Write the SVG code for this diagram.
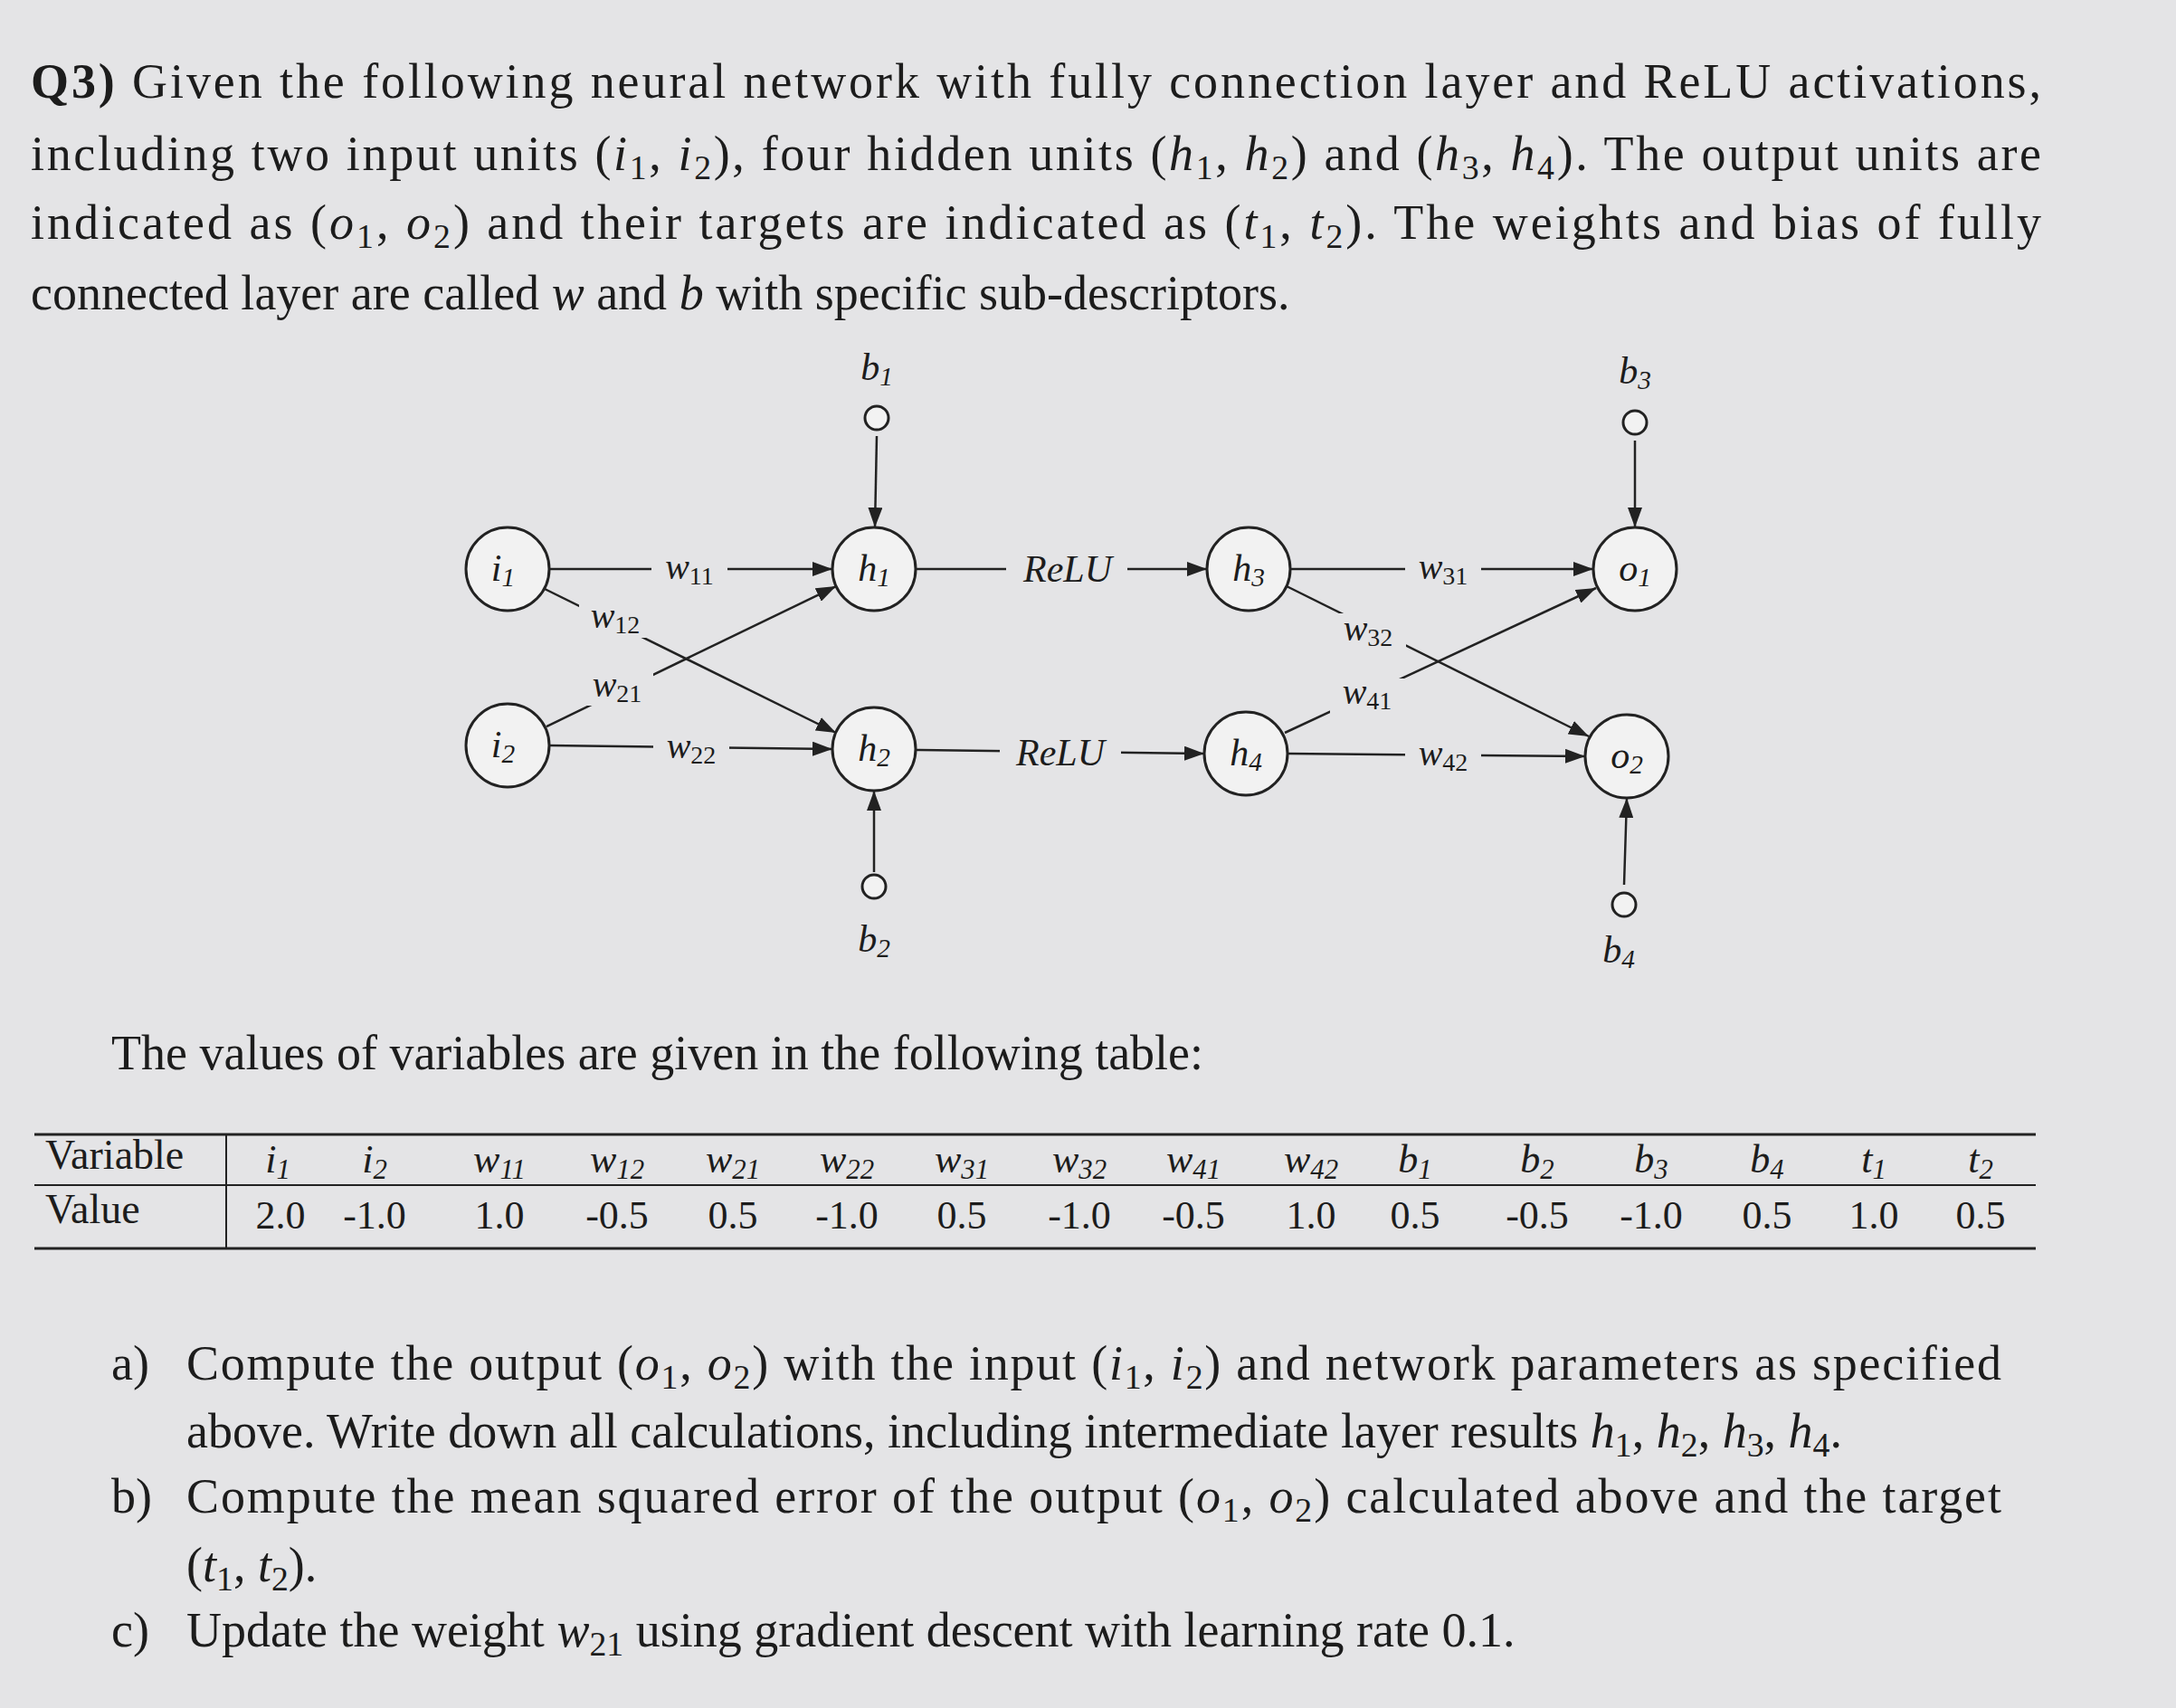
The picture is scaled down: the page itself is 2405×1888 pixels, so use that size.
<svg xmlns="http://www.w3.org/2000/svg" width="2405" height="1888" viewBox="0 0 2405 1888">
<defs>
<marker id="a" viewBox="0 0 10 10" refX="10" refY="5" markerWidth="22" markerHeight="16" orient="auto" markerUnits="userSpaceOnUse" preserveAspectRatio="none"><path d="M0,0 L10,5 L0,10 z" fill="#222"/></marker>
</defs>
<style>
text{font-family:"Liberation Serif","Times New Roman",serif;fill:#1c1c1c}
.p{font-size:54px}
.m{font-style:italic}
.s{font-size:0.7em}
.u{font-size:0.7em;baseline-shift:-22%}
.n{fill:#f2f2f2;stroke:#222;stroke-width:3}
.b{fill:#f2f2f2;stroke:#222;stroke-width:3}
.l{stroke:#222;stroke-width:2.5;fill:none}
.lab{font-size:40px;text-anchor:middle}
.nl{font-size:42px;text-anchor:middle;font-style:italic}
.t{font-size:44px;text-anchor:middle}
.bg{fill:#e4e4e6}
</style>
<rect width="2405" height="1888" fill="#e4e4e6"/>
<g id="question">
<text class="p" x="34" y="108" textLength="2222" lengthAdjust="spacing"><tspan font-weight="bold">Q3)</tspan> Given the following neural network with fully connection layer and ReLU activations,</text>
<text class="p" x="34" y="188" textLength="2222" lengthAdjust="spacing">including two input units (<tspan class="m">i</tspan><tspan class="s" dy="10">1</tspan><tspan dy="-10">, </tspan><tspan class="m">i</tspan><tspan class="s" dy="10">2</tspan><tspan dy="-10">),   four hidden units (</tspan><tspan class="m">h</tspan><tspan class="s" dy="10">1</tspan><tspan dy="-10">, </tspan><tspan class="m">h</tspan><tspan class="s" dy="10">2</tspan><tspan dy="-10">) and (</tspan><tspan class="m">h</tspan><tspan class="s" dy="10">3</tspan><tspan dy="-10">, </tspan><tspan class="m">h</tspan><tspan class="s" dy="10">4</tspan><tspan dy="-10">). The output units are</tspan></text>
<text class="p" x="34" y="264" textLength="2222" lengthAdjust="spacing">indicated as (<tspan class="m">o</tspan><tspan class="s" dy="10">1</tspan><tspan dy="-10">, </tspan><tspan class="m">o</tspan><tspan class="s" dy="10">2</tspan><tspan dy="-10">) and their targets are indicated as (</tspan><tspan class="m">t</tspan><tspan class="s" dy="10">1</tspan><tspan dy="-10">, </tspan><tspan class="m">t</tspan><tspan class="s" dy="10">2</tspan><tspan dy="-10">). The weights and bias of fully</tspan></text>
<text class="p" x="34" y="342">connected layer are called <tspan class="m">w</tspan> and <tspan class="m">b</tspan> with specific sub-descriptors.</text>
</g>
<g id="connectors">
<line class="l" x1="607" y1="629" x2="920" y2="629" marker-end="url(#a)"/>
<line class="l" x1="600" y1="650" x2="924" y2="810" marker-end="url(#a)"/>
<line class="l" x1="604" y1="803" x2="924" y2="648" marker-end="url(#a)"/>
<line class="l" x1="607" y1="824" x2="920" y2="828" marker-end="url(#a)"/>
<line class="l" x1="1012" y1="629" x2="1334" y2="629" marker-end="url(#a)"/>
<line class="l" x1="1012" y1="829" x2="1331" y2="833" marker-end="url(#a)"/>
<line class="l" x1="1426" y1="629" x2="1761" y2="629" marker-end="url(#a)"/>
<line class="l" x1="1422" y1="648" x2="1756" y2="814" marker-end="url(#a)"/>
<line class="l" x1="1420" y1="810" x2="1764" y2="650" marker-end="url(#a)"/>
<line class="l" x1="1423" y1="833" x2="1752" y2="836" marker-end="url(#a)"/>
<line class="l" x1="969" y1="482" x2="967" y2="583" marker-end="url(#a)"/>
<line class="l" x1="966" y1="964" x2="966" y2="874" marker-end="url(#a)"/>
<line class="l" x1="1807" y1="487" x2="1807" y2="583" marker-end="url(#a)"/>
<line class="l" x1="1795" y1="978" x2="1798" y2="882" marker-end="url(#a)"/>
<rect class="bg" x="720" y="605" width="84" height="44"/>
<text class="lab" x="762" y="640"><tspan class="m">w</tspan><tspan class="u">11</tspan></text>
<rect class="bg" x="722" y="805" width="84" height="40"/>
<text class="lab" x="764" y="838"><tspan class="m">w</tspan><tspan class="u">22</tspan></text>
<rect class="bg" x="640" y="665" width="80" height="40"/>
<text class="lab" x="680" y="694"><tspan class="m">w</tspan><tspan class="u">12</tspan></text>
<rect class="bg" x="642" y="740" width="80" height="40"/>
<text class="lab" x="682" y="770"><tspan class="m">w</tspan><tspan class="u">21</tspan></text>
<rect class="bg" x="1470" y="678" width="84" height="40"/>
<text class="lab" x="1512" y="708"><tspan class="m">w</tspan><tspan class="u">32</tspan></text>
<rect class="bg" x="1470" y="750" width="84" height="40"/>
<text class="lab" x="1511" y="778"><tspan class="m">w</tspan><tspan class="u">41</tspan></text>
<rect class="bg" x="1112" y="605" width="134" height="48"/>
<text class="nl" x="1180" y="643">ReLU</text>
<rect class="bg" x="1105" y="808" width="134" height="48"/>
<text class="nl" x="1172" y="846">ReLU</text>
<rect class="bg" x="1553" y="605" width="84" height="44"/>
<text class="lab" x="1595" y="640"><tspan class="m">w</tspan><tspan class="u">31</tspan></text>
<rect class="bg" x="1553" y="815" width="84" height="40"/>
<text class="lab" x="1595" y="846"><tspan class="m">w</tspan><tspan class="u">42</tspan></text>
</g>
<g id="i1"><circle class="n" cx="561" cy="629" r="46"/><text class="nl" x="556" y="642">i<tspan class="u">1</tspan></text></g>
<g id="i2"><circle class="n" cx="561" cy="824" r="46"/><text class="nl" x="556" y="837">i<tspan class="u">2</tspan></text></g>
<g id="h1"><circle class="n" cx="966" cy="629" r="46"/><text class="nl" x="966" y="642">h<tspan class="u">1</tspan></text></g>
<g id="h2"><circle class="n" cx="966" cy="828" r="46"/><text class="nl" x="966" y="841">h<tspan class="u">2</tspan></text></g>
<g id="h3"><circle class="n" cx="1380" cy="629" r="46"/><text class="nl" x="1380" y="642">h<tspan class="u">3</tspan></text></g>
<g id="h4"><circle class="n" cx="1377" cy="833" r="46"/><text class="nl" x="1377" y="846">h<tspan class="u">4</tspan></text></g>
<g id="o1"><circle class="n" cx="1807" cy="629" r="46"/><text class="nl" x="1807" y="642">o<tspan class="u">1</tspan></text></g>
<g id="o2"><circle class="n" cx="1798" cy="836" r="46"/><text class="nl" x="1798" y="849">o<tspan class="u">2</tspan></text></g>
<g id="b1"><circle class="b" cx="969" cy="462" r="13"/><text class="nl" x="969" y="420">b<tspan class="u">1</tspan></text></g>
<g id="b2"><circle class="b" cx="966" cy="980" r="13"/><text class="nl" x="966" y="1052">b<tspan class="u">2</tspan></text></g>
<g id="b3"><circle class="b" cx="1807" cy="467" r="13"/><text class="nl" x="1807" y="424">b<tspan class="u">3</tspan></text></g>
<g id="b4"><circle class="b" cx="1795" cy="1000" r="13"/><text class="nl" x="1789" y="1064">b<tspan class="u">4</tspan></text></g>
<g id="table">
<text class="p" x="123" y="1182">The values of variables are given in the following table:</text>
<line x1="38" y1="1254" x2="2250" y2="1254" stroke="#222" stroke-width="3"/>
<line x1="38" y1="1310" x2="2250" y2="1310" stroke="#222" stroke-width="2"/>
<line x1="38" y1="1380" x2="2250" y2="1380" stroke="#222" stroke-width="3"/>
<line x1="250" y1="1254" x2="250" y2="1380" stroke="#222" stroke-width="2"/>
<text x="50" y="1292" font-size="46">Variable</text>
<text x="50" y="1352" font-size="46">Value</text>
<text class="t m" x="307" y="1296">i<tspan class="u">1</tspan></text>
<text class="t m" x="414" y="1296">i<tspan class="u">2</tspan></text>
<text class="t m" x="552" y="1296">w<tspan class="u">11</tspan></text>
<text class="t m" x="682" y="1296">w<tspan class="u">12</tspan></text>
<text class="t m" x="810" y="1296">w<tspan class="u">21</tspan></text>
<text class="t m" x="936" y="1296">w<tspan class="u">22</tspan></text>
<text class="t m" x="1063" y="1296">w<tspan class="u">31</tspan></text>
<text class="t m" x="1193" y="1296">w<tspan class="u">32</tspan></text>
<text class="t m" x="1319" y="1296">w<tspan class="u">41</tspan></text>
<text class="t m" x="1449" y="1296">w<tspan class="u">42</tspan></text>
<text class="t m" x="1564" y="1296">b<tspan class="u">1</tspan></text>
<text class="t m" x="1699" y="1296">b<tspan class="u">2</tspan></text>
<text class="t m" x="1825" y="1296">b<tspan class="u">3</tspan></text>
<text class="t m" x="1953" y="1296">b<tspan class="u">4</tspan></text>
<text class="t m" x="2071" y="1296">t<tspan class="u">1</tspan></text>
<text class="t m" x="2189" y="1296">t<tspan class="u">2</tspan></text>
<text class="t" x="310" y="1358">2.0</text>
<text class="t" x="414" y="1358">-1.0</text>
<text class="t" x="552" y="1358">1.0</text>
<text class="t" x="682" y="1358">-0.5</text>
<text class="t" x="810" y="1358">0.5</text>
<text class="t" x="936" y="1358">-1.0</text>
<text class="t" x="1063" y="1358">0.5</text>
<text class="t" x="1193" y="1358">-1.0</text>
<text class="t" x="1319" y="1358">-0.5</text>
<text class="t" x="1449" y="1358">1.0</text>
<text class="t" x="1564" y="1358">0.5</text>
<text class="t" x="1699" y="1358">-0.5</text>
<text class="t" x="1825" y="1358">-1.0</text>
<text class="t" x="1953" y="1358">0.5</text>
<text class="t" x="2071" y="1358">1.0</text>
<text class="t" x="2189" y="1358">0.5</text>
</g>
<g id="tasks">
<text class="p" x="123" y="1525">a)</text>
<text class="p" x="206" y="1525" textLength="2006" lengthAdjust="spacing">Compute the output (<tspan class="m">o</tspan><tspan class="s" dy="10">1</tspan><tspan dy="-10">, </tspan><tspan class="m">o</tspan><tspan class="s" dy="10">2</tspan><tspan dy="-10">) with the input (</tspan><tspan class="m">i</tspan><tspan class="s" dy="10">1</tspan><tspan dy="-10">, </tspan><tspan class="m">i</tspan><tspan class="s" dy="10">2</tspan><tspan dy="-10">) and network parameters as specified</tspan></text>
<text class="p" x="206" y="1600">above. Write down all calculations, including intermediate layer results <tspan class="m">h</tspan><tspan class="s" dy="10">1</tspan><tspan dy="-10">, </tspan><tspan class="m">h</tspan><tspan class="s" dy="10">2</tspan><tspan dy="-10">, </tspan><tspan class="m">h</tspan><tspan class="s" dy="10">3</tspan><tspan dy="-10">, </tspan><tspan class="m">h</tspan><tspan class="s" dy="10">4</tspan><tspan dy="-10">.</tspan></text>
<text class="p" x="123" y="1672">b)</text>
<text class="p" x="206" y="1672" textLength="2006" lengthAdjust="spacing">Compute the mean squared error of the output (<tspan class="m">o</tspan><tspan class="s" dy="10">1</tspan><tspan dy="-10">, </tspan><tspan class="m">o</tspan><tspan class="s" dy="10">2</tspan><tspan dy="-10">) calculated above and the target</tspan></text>
<text class="p" x="206" y="1748">(<tspan class="m">t</tspan><tspan class="s" dy="10">1</tspan><tspan dy="-10">, </tspan><tspan class="m">t</tspan><tspan class="s" dy="10">2</tspan><tspan dy="-10">).</tspan></text>
<text class="p" x="123" y="1820">c)</text>
<text class="p" x="206" y="1820">Update the weight <tspan class="m">w</tspan><tspan class="s" dy="10">21</tspan><tspan dy="-10"> using gradient descent with learning rate 0.1.</tspan></text>
</g>
</svg>
